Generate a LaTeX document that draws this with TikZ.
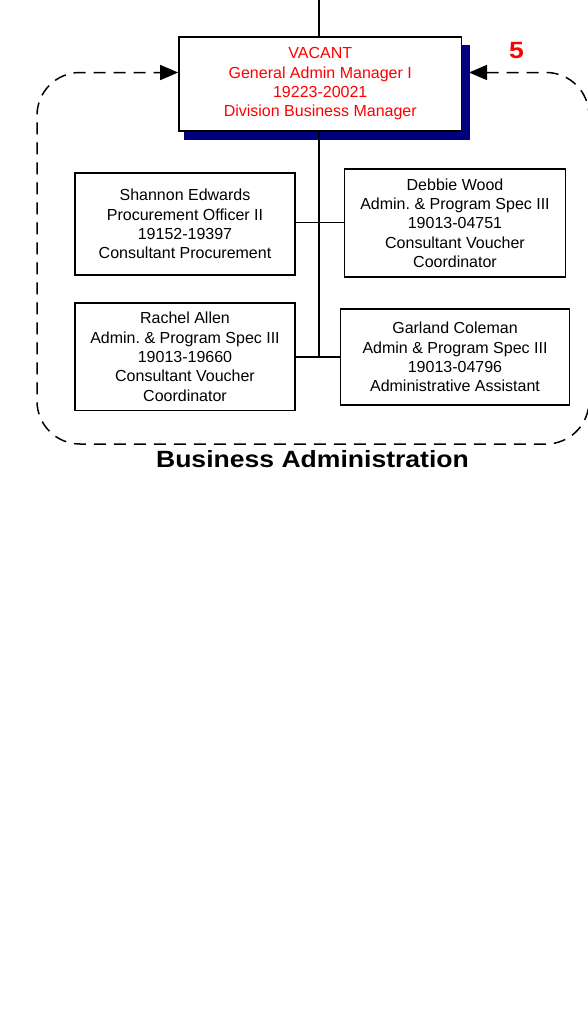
\documentclass[tikz,border=0pt]{standalone}
\usepackage{fontspec}
\setmainfont{Liberation Sans}
\newfontfamily\titlefont[FakeStretch=1.13]{Liberation Sans}
\usetikzlibrary{arrows.meta,calc}
\definecolor{shadownavy}{RGB}{0,0,128}
\definecolor{vacred}{RGB}{255,0,0}
\frenchspacing
\begin{document}
\begin{tikzpicture}[x=1pt,y=-1pt,
  person/.style={draw, line width=1.6pt, fill=white, align=center, inner sep=0pt,
                 font=\fontsize{16}{19.3}\selectfont},
  link/.style={line width=1.6pt},
  frame/.style={line width=1.5pt, dash pattern=on 12pt off 8pt,
                {Triangle[length=18pt,width=15pt]}-{Triangle[length=18pt,width=15pt]}},
  bigbold/.style={font=\titlefont\bfseries\fontsize{23.5}{28}\selectfont},
]
\useasboundingbox (0,0) rectangle (587,1015);

% shadow of the top box
\fill[shadownavy] (184,45) rectangle (470,139.5);

\node[person, text=vacred, minimum width=282.5pt, minimum height=94pt] (vac) at (320.25,84)
  {VACANT\\General Admin Manager I\\19223-20021\\Division Business Manager};

\node[person, minimum width=220pt, minimum height=102pt] (shannon) at (185,224)
  {Shannon Edwards\\Procurement Officer II\\19152-19397\\Consultant Procurement};
\node[person, minimum width=221pt, minimum height=108pt] (debbie) at (455,223)
  {Debbie Wood\\Admin. \& Program Spec III\\19013-04751\\Consultant Voucher\\Coordinator};
\node[person, minimum width=220pt, minimum height=107.5pt] (rachel) at (185,356.75)
  {Rachel Allen\\Admin. \& Program Spec III\\19013-19660\\Consultant Voucher\\Coordinator};
\node[person, minimum width=229pt, minimum height=96pt] (garland) at (455,357)
  {Garland Coleman\\Admin \& Program Spec III\\19013-04796\\Administrative Assistant};

% connectors
\coordinate (topin) at (319,0);
\coordinate (jA) at (319,222.3);
\coordinate (jB) at (319,356.7);
\draw[link] (topin) -- (topin |- vac.north);
\draw[link] (topin |- vac.south) -- (jB);
\draw[link] (shannon.east |- jA) -- (debbie.west |- jA);
\draw[link] (rachel.east |- jB) -- (garland.west |- jB);

% dashed group frame with arrows into the top box
\coordinate (inL) at ($(vac.west)+(0,-11.5)$);
\coordinate (inR) at (469,72.5);
\draw[frame, rounded corners=43pt] (inR) -- (589,72.5) -- (589,444) -- (37,444) -- (37,72.5) -- (inL);

\node[bigbold, text=vacred, anchor=base] (five) at (516.5,58) {5};
\node[bigbold, anchor=base] (title) at (312.5,467.3) {Business Administration};
\end{tikzpicture}
\end{document}
